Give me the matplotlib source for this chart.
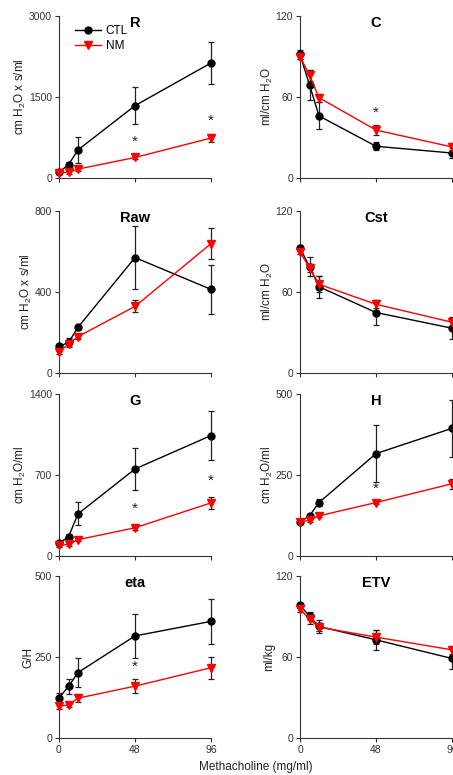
import numpy as np
import matplotlib
matplotlib.use('Agg')
import matplotlib.pyplot as plt

plt.rcParams['font.family'] = ['Liberation Sans', 'DejaVu Sans']
plt.rcParams['mathtext.default'] = 'regular'

# Дозы метахолина (mg/ml)
dose = [0, 6, 12, 48, 96]
xticks = [0, 48, 96]

# R
R_ctl = [110, 245, 520, 1340, 2130]
R_ctl_err = [40, 50, 235, 340, 380]
R_nm = [100, 105, 165, 380, 740]
R_nm_err = [30, 25, 30, 30, 70]
R_stars = [(48, 676), (96, 1058)]

# C
C_ctl = [91.5, 69, 46, 23.5, 18.5]
C_ctl_err = [3, 11, 10, 3, 4]
C_nm = [90, 76, 59.5, 35.5, 23]
C_nm_err = [2, 4, 3, 4, 3]
C_stars = [(48, 48)]

# Raw
Raw_ctl = [131, 151, 226, 570, 413]
Raw_ctl_err = [10, 20, 12, 155, 120]
Raw_nm = [103, 144, 180, 329, 639]
Raw_nm_err = [8, 15, 12, 30, 78]

# Cst
Cst_ctl = [92.7, 78.7, 63.9, 44.8, 33.2]
Cst_ctl_err = [2, 7, 8, 9.5, 8]
Cst_nm = [89.8, 77.9, 65.7, 50.9, 37.6]
Cst_nm_err = [2, 3, 6, 3, 3]

# G
G_ctl = [109, 166, 364, 752, 1041]
G_ctl_err = [15, 20, 100, 185, 210]
G_nm = [92, 100, 141, 244, 459]
G_nm_err = [15, 10, 15, 20, 50]
G_stars = [(48, 407), (96, 646)]

# H
H_ctl = [105, 124, 165, 316, 394]
H_ctl_err = [5, 6, 12, 88, 88]
H_nm = [105, 110, 124, 165, 223]
H_nm_err = [4, 5, 5, 6, 16]
H_stars = [(48, 208)]

# eta
eta_ctl = [124, 159, 202, 315, 360]
eta_ctl_err = [15, 22, 45, 68, 70]
eta_nm = [98, 102, 123, 160, 217]
eta_nm_err = [8, 6, 12, 22, 34]
eta_stars = [(48, 219)]

# ETV
ETV_ctl = [98.2, 90.3, 82.6, 72.7, 58.9]
ETV_ctl_err = [1.5, 3, 5, 7.5, 8]
ETV_nm = [95.7, 87.8, 82.1, 74.7, 65.3]
ETV_nm_err = [2, 3, 3, 5, 3]

panels = [
    ('R', 'cm H$_2$O x s/ml', 3000, R_ctl, R_ctl_err, R_nm, R_nm_err, R_stars),
    ('C', 'ml/cm H$_2$O', 120, C_ctl, C_ctl_err, C_nm, C_nm_err, C_stars),
    ('Raw', 'cm H$_2$O x s/ml', 800, Raw_ctl, Raw_ctl_err, Raw_nm, Raw_nm_err, []),
    ('Cst', 'ml/cm H$_2$O', 120, Cst_ctl, Cst_ctl_err, Cst_nm, Cst_nm_err, []),
    ('G', 'cm H$_2$O/ml', 1400, G_ctl, G_ctl_err, G_nm, G_nm_err, G_stars),
    ('H', 'cm H$_2$O/ml', 500, H_ctl, H_ctl_err, H_nm, H_nm_err, H_stars),
    ('eta', 'G/H', 500, eta_ctl, eta_ctl_err, eta_nm, eta_nm_err, eta_stars),
    ('ETV', 'ml/kg', 120, ETV_ctl, ETV_ctl_err, ETV_nm, ETV_nm_err, []),
]

W, H = 453, 775
fig = plt.figure(figsize=(W / 100, H / 100), dpi=100)

col_left = [59, 300]
col_w = 152
row_top = [16, 211, 394, 576]
row_h = 162

axis_col = '#333333'

for i, (title, ylab, ytop, ctl, ctl_e, nm, nm_e, stars) in enumerate(panels):
    r, c = divmod(i, 2)
    ax = fig.add_axes([col_left[c] / W, 1 - (row_top[r] + row_h) / H, col_w / W, row_h / H])
    h_ctl = ax.errorbar(dose, ctl, yerr=ctl_e, color='black', marker='o', ms=5, lw=1,
                        ecolor='#222222', elinewidth=0.9, capsize=2, capthick=0.9,
                        clip_on=False, zorder=3)
    h_nm = ax.errorbar(dose, nm, yerr=nm_e, color='#ff0000', marker='v', ms=5.5, lw=1,
                       ecolor='#222222', elinewidth=0.9, capsize=2, capthick=0.9,
                       clip_on=False, zorder=4)
    for sx, sy in stars:
        ax.text(sx, sy, '*', ha='center', va='center', fontsize=11, color='#222222')
    ax.set_xlim(0, 96)
    ax.set_ylim(0, ytop)
    ax.set_xticks(xticks)
    ax.set_yticks([0, ytop / 2, ytop])
    ax.set_yticklabels(['0', f'{ytop // 2:g}', f'{ytop:g}'])
    if r < 3:
        ax.set_xticklabels([])
    for s in ['top', 'right']:
        ax.spines[s].set_visible(False)
    for s in ['left', 'bottom']:
        ax.spines[s].set_color(axis_col)
        ax.spines[s].set_linewidth(0.8)
    ax.tick_params(direction='out', length=3, width=0.8, colors=axis_col,
                   labelsize=7.5, pad=2)
    ax.set_ylabel(ylab, fontsize=8.5, color='#222222', labelpad=0.5)
    ax.text(0.5, 0.955, title, transform=ax.transAxes, ha='center', va='center',
            fontsize=10.5, fontweight='bold')
    if i == 0:
        ax.legend([h_ctl[0], h_nm[0]], ['CTL', 'NM'], loc='upper left',
                  bbox_to_anchor=(0.075, 0.975), frameon=False,
                  fontsize=8.5, handlelength=2.2, handletextpad=0.4, labelspacing=0.3,
                  borderaxespad=0)

fig.text(256 / W, 1 - 767 / H, 'Methacholine (mg/ml)', ha='center', va='center',
         fontsize=8.5, color='#222222')

fig.savefig('out.png', dpi=100)
